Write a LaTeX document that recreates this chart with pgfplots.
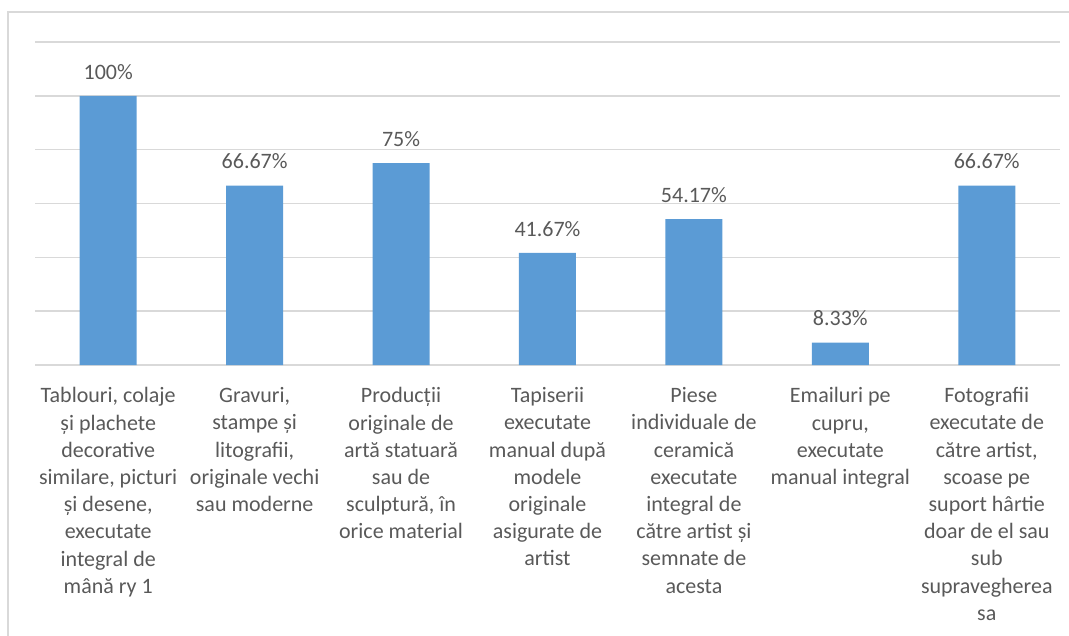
\documentclass[border=0pt]{standalone}
\usepackage{pgfplots}
\pgfplotsset{compat=1.18}
\usepackage{fontspec}
\setmainfont{Carlito}
\definecolor{barblue}{HTML}{5B9BD5}
\definecolor{txt}{HTML}{595959}
\definecolor{gridc}{HTML}{D9D9D9}
\begin{document}
\begin{tikzpicture}
\path[use as bounding box] (-35pt,-270pt) rectangle (1034pt,365pt);
\draw[gridc, line width=1.5pt] (-27pt,-300pt) -- (-27pt,353pt) -- (1100pt,353pt);
\begin{axis}[
  at={(0pt,0pt)}, anchor=south west,
  scale only axis, width=1025pt, height=323pt,
  xmin=-0.5, xmax=6.5, ymin=0, ymax=120,
  ytick={0,20,...,120}, yticklabels={},
  ymajorgrids, grid style={gridc, line width=1.5pt},
  axis line style={draw=none}, major tick length=0pt,
  xtick={0,...,6},
  xticklabels={
    {Tablouri, colaje\\și plachete\\decorative\\similare, picturi\\și desene,\\executate\\integral de\\mână ry 1},
    {Gravuri,\\stampe și\\litografii,\\originale vechi\\sau moderne},
    {Producții\\originale de\\artă statuară\\sau de\\sculptură, în\\orice material},
    {Tapiserii\\executate\\manual după\\modele\\originale\\asigurate de\\artist},
    {Piese\\individuale de\\ceramică\\executate\\integral de\\către artist și\\semnate de\\acesta},
    {Emailuri pe\\cupru,\\executate\\manual integral},
    {Fotografii\\executate de\\către artist,\\scoase pe\\suport hârtie\\doar de el sau\\sub\\supravegherea\\sa}},
  xticklabel style={align=center, font=\fontsize{22}{27.2}\selectfont, text=txt, yshift=-19pt},
  ybar, bar width=57pt,
  nodes near coords, point meta=explicit symbolic,
  every node near coord/.append style={font=\fontsize{22}{26}\selectfont, text=txt, yshift=13pt},
]
\addplot[fill=barblue, draw=none] coordinates {
  (0,100) [100\%]
  (1,66.67) [66.67\%]
  (2,75) [75\%]
  (3,41.67) [41.67\%]
  (4,54.17) [54.17\%]
  (5,8.33) [8.33\%]
  (6,66.67) [66.67\%]
};
\end{axis}
\end{tikzpicture}
\end{document}
